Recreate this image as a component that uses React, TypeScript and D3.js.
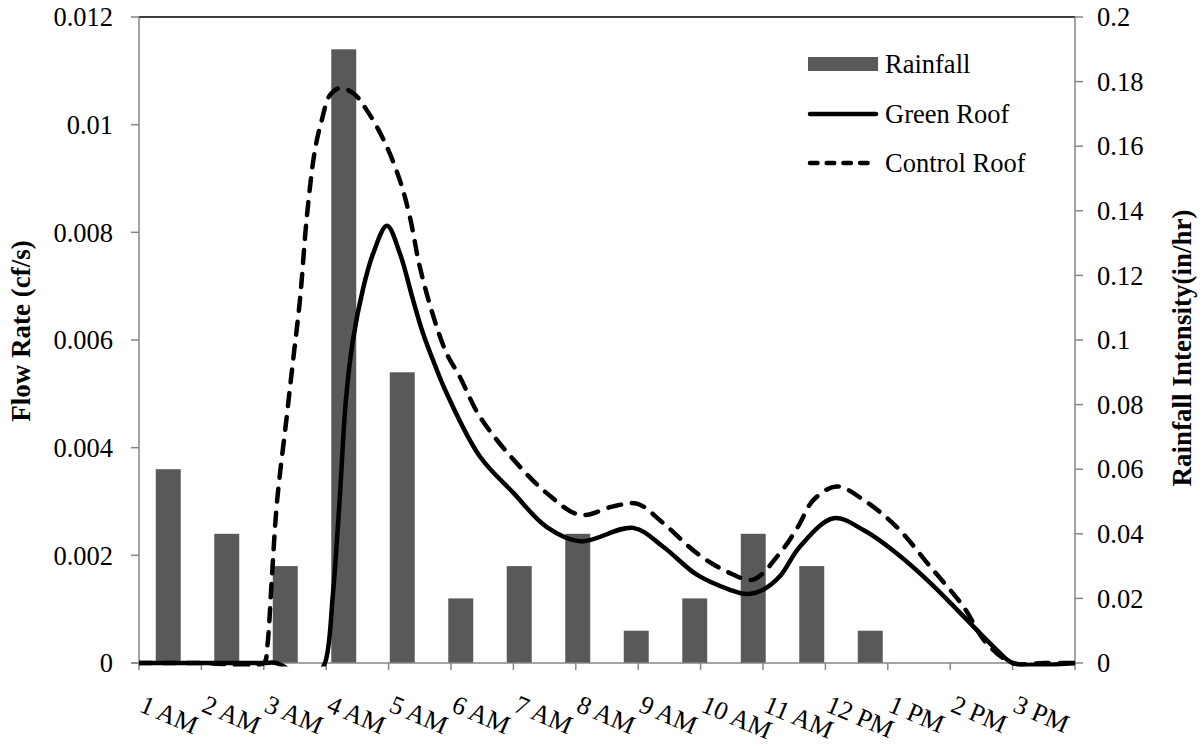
import React from "react";
import * as d3 from "d3";

// Hourly category labels along the bottom axis
const hourLabels = [
  "1 AM", "2 AM", "3 AM", "4 AM", "5 AM", "6 AM", "7 AM", "8 AM",
  "9 AM", "10 AM", "11 AM", "12 PM", "1 PM", "2 PM", "3 PM",
];

// Hourly rainfall intensity (in/hr), right axis
const rainfall = [0.06, 0.04, 0.03, 0.19, 0.09, 0.02, 0.03, 0.04, 0.01, 0.02, 0.04, 0.03, 0.01, 0, 0];

// Green roof runoff (cf/s): time in hours from the left edge of the plot.
// Small negative sensor readings fall below the axis and are clipped away.
const greenTime = [
  0, 1, 2, 2.2, 2.55, 2.85, 2.98, 3.109, 3.22, 3.317, 3.429, 3.59, 3.75, 3.974, 4.18,
  4.39, 4.55, 4.71, 4.93, 5.46, 6.0, 6.53, 7.07, 7.92, 8.4, 8.94, 9.47, 9.74, 10.0,
  10.27, 10.59, 11.13, 11.61, 12.14, 12.68, 13.21, 13.74, 14.0, 14.45, 15,
];
const greenFlow = [
  0, 0, 0, 0, -0.0002, -0.0002, 0, 0.0013, 0.00312, 0.0049, 0.006, 0.00695, 0.0076,
  0.00812, 0.00761, 0.00675, 0.00613, 0.00563, 0.00501, 0.00384, 0.00316, 0.00253,
  0.00226, 0.00251, 0.00216, 0.00164, 0.00136, 0.00128, 0.00136, 0.00161, 0.00216,
  0.00269, 0.00247, 0.00204, 0.00149, 0.00087, 0.00025, 0, -0.00004, 0,
];

// Control roof runoff (cf/s)
const controlTime = [
  0, 1, 2.0, 2.05, 2.13, 2.21, 2.37, 2.47, 2.58, 2.69, 2.82, 2.93, 3.06, 3.22, 3.44,
  3.65, 3.92, 4.18, 4.34, 4.5, 4.72, 4.93, 5.14, 5.46, 6.0, 6.53, 7.07, 7.6, 7.98, 8.4,
  8.94, 9.47, 9.84, 10.27, 10.56, 10.81, 11.18, 11.61, 12.14, 12.68, 13.21, 13.58,
  14.0, 14.5, 15,
];
const controlFlow = [
  0, 0, 0, 0.00025, 0.0016, 0.00297, 0.0046, 0.00563, 0.00675, 0.00829, 0.00953,
  0.01009, 0.01055, 0.01068, 0.01058, 0.01027, 0.00972, 0.00897, 0.00829, 0.00736,
  0.00643, 0.00575, 0.00532, 0.00458, 0.00378, 0.00316, 0.00275, 0.00291, 0.00296,
  0.0026, 0.00204, 0.00167, 0.00155, 0.00204, 0.00253, 0.00303, 0.00328, 0.00303,
  0.00253, 0.00179, 0.00105, 0.00037, 0, 0, 0,
];

const flowTicks = [0, 0.002, 0.004, 0.006, 0.008, 0.01, 0.012];
const flowTickLabels = ["0", "0.002", "0.004", "0.006", "0.008", "0.01", "0.012"];
const rainTicks = [0, 0.02, 0.04, 0.06, 0.08, 0.1, 0.12, 0.14, 0.16, 0.18, 0.2];
const rainTickLabels = ["0", "0.02", "0.04", "0.06", "0.08", "0.1", "0.12", "0.14", "0.16", "0.18", "0.2"];

const legendItems = ["Rainfall", "Green Roof", "Control Roof"];

const W = 1203;
const H = 746;
const left = 139;
const right = 1075;
const top = 17;
const bottom = 663;

const FONT = "'Liberation Serif', 'Times New Roman', serif";
const AXIS = "#868686";
const BAR = "#595959";
const LINE_W = 4.5;

export default function App() {
  const hourSpan = hourLabels.length;

  // Bars sit on a secondary category axis with one extra empty slot
  const xBar = d3
    .scaleBand<number>()
    .domain(d3.range(hourSpan + 1))
    .range([left, right])
    .paddingInner(0.573)
    .paddingOuter(0.2865);

  const xCat = d3.scaleBand<string>().domain(hourLabels).range([left, right]).padding(0);
  const xTime = d3.scaleLinear().domain([0, hourSpan]).range([left, right]);
  const yFlow = d3.scaleLinear().domain([0, 0.012]).range([bottom, top]);
  const yRain = d3.scaleLinear().domain([0, 0.2]).range([bottom, top]);

  const line = d3
    .line<[number, number]>()
    .x((d) => xTime(d[0]))
    .y((d) => yFlow(d[1]))
    .curve(d3.curveCatmullRom.alpha(0.5));

  const greenPath = line(greenTime.map((t, i) => [t, greenFlow[i]] as [number, number])) || "";
  const controlPath = line(controlTime.map((t, i) => [t, controlFlow[i]] as [number, number])) || "";

  const step = xCat.step();
  const boundaries = d3.range(hourSpan + 1).map((i) => left + i * step);

  const legX = 808;
  const legW = 70;
  const legY = [64, 114, 163];

  const textStyle = { fontFamily: FONT };

  return (
    <svg
      width={W}
      height={H}
      style={{ position: "absolute", left: 0, top: 0, background: "#fff", display: "block" }}
    >
      <defs>
        <clipPath id="plotClip">
          <rect x={left} y={top - 5} width={right - left + 4} height={bottom - top + 8.5} />
        </clipPath>
      </defs>

      {/* rainfall bars */}
      {rainfall.map((v, i) =>
        v > 0 ? (
          <rect
            key={i}
            x={xBar(i)}
            y={yRain(v)}
            width={xBar.bandwidth()}
            height={bottom - yRain(v)}
            fill={BAR}
          />
        ) : null
      )}

      {/* axes */}
      <line x1={left} y1={top} x2={right} y2={top} stroke="#000" strokeWidth={1.5} />
      <line x1={left} y1={top} x2={left} y2={bottom} stroke={AXIS} strokeWidth={1.5} />
      <line x1={right} y1={top} x2={right} y2={bottom} stroke={AXIS} strokeWidth={1.5} />
      <line x1={left - 8} y1={bottom} x2={right} y2={bottom} stroke={AXIS} strokeWidth={1.5} />

      {flowTicks.map((t, i) => (
        <g key={"fl" + i}>
          <line x1={left - 8} x2={left} y1={yFlow(t)} y2={yFlow(t)} stroke={AXIS} strokeWidth={1.5} />
          <text x={113} y={yFlow(t)} dy="0.35em" textAnchor="end" fontSize={26.5} fill="#000" style={textStyle}>
            {flowTickLabels[i]}
          </text>
        </g>
      ))}

      {rainTicks.map((t, i) => (
        <g key={"rn" + i}>
          <line x1={right} x2={right + 8} y1={yRain(t)} y2={yRain(t)} stroke={AXIS} strokeWidth={1.5} />
          <text x={1097} y={yRain(t)} dy="0.35em" textAnchor="start" fontSize={26.5} fill="#000" style={textStyle}>
            {rainTickLabels[i]}
          </text>
        </g>
      ))}

      {boundaries.map((bx, i) => (
        <line key={"bt" + i} x1={bx} x2={bx} y1={bottom} y2={bottom + 7} stroke={AXIS} strokeWidth={1.5} />
      ))}

      {hourLabels.map((lab) => {
        const x0 = (xCat(lab) || 0) + step / 2 - 32;
        const y0 = 711;
        return (
          <text
            key={lab}
            x={x0}
            y={y0}
            transform={`rotate(23, ${x0}, ${y0})`}
            textAnchor="start"
            fontSize={26}
            fill="#000"
            style={textStyle}
          >
            {lab}
          </text>
        );
      })}

      {/* runoff lines */}
      <g clipPath="url(#plotClip)">
        <path
          d={controlPath}
          fill="none"
          stroke="#000"
          strokeWidth={LINE_W}
          strokeDasharray="13 11"
          strokeLinecap="round"
        />
        <path d={greenPath} fill="none" stroke="#000" strokeWidth={LINE_W} strokeLinejoin="round" />
      </g>

      {/* axis titles */}
      <text
        transform={`translate(30, 331) rotate(-90)`}
        textAnchor="middle"
        fontWeight="bold"
        fontSize={27}
        fill="#000"
        style={textStyle}
      >
        Flow Rate (cf/s)
      </text>
      <text
        transform={`translate(1191, 348) rotate(-90)`}
        textAnchor="middle"
        fontWeight="bold"
        fontSize={27}
        fill="#000"
        style={textStyle}
      >
        Rainfall Intensity(in/hr)
      </text>

      {/* legend */}
      <rect x={legX} y={legY[0] - 7} width={legW} height={14} fill={BAR} />
      <line x1={legX + 2} x2={legX + legW - 2} y1={legY[1]} y2={legY[1]} stroke="#000" strokeWidth={LINE_W} strokeLinecap="round" />
      <line
        x1={legX + 2}
        x2={legX + legW - 2}
        y1={legY[2]}
        y2={legY[2]}
        stroke="#000"
        strokeWidth={LINE_W}
        strokeDasharray="7.5 9.2"
        strokeLinecap="round"
      />
      {legendItems.map((item, i) => (
        <text key={item} x={885} y={legY[i] + 9} fontSize={26.5} fill="#000" style={textStyle}>
          {item}
        </text>
      ))}
    </svg>
  );
}
